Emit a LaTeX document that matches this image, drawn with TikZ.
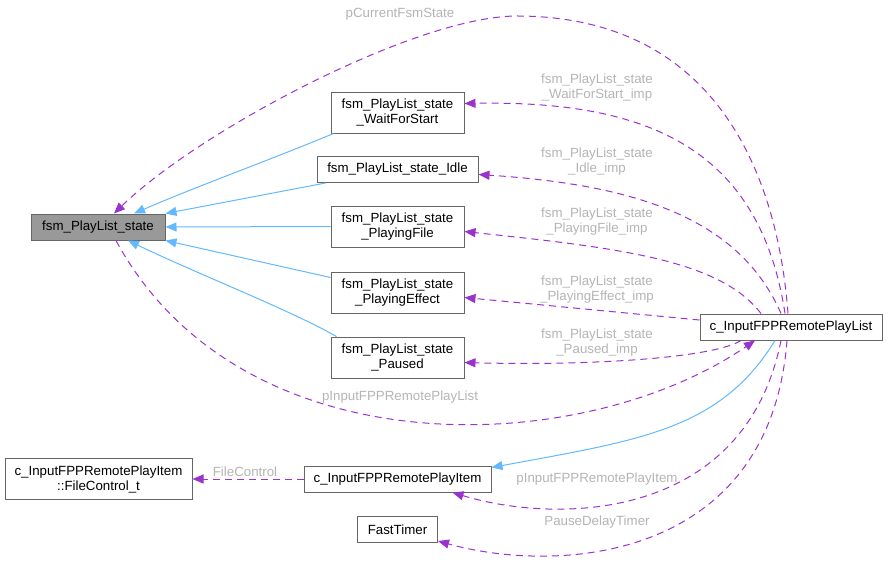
\documentclass[tikz,border=0pt]{standalone}
\usepackage{fontspec}
\setmainfont{Liberation Sans}
\usetikzlibrary{arrows.meta}
\definecolor{boxgray}{HTML}{666666}
\definecolor{basefill}{HTML}{999999}
\definecolor{inhblue}{HTML}{63B8FF}
\definecolor{usepurple}{HTML}{9A32CD}
\definecolor{lblgray}{HTML}{B4B4B4}

\begin{document}
\begin{tikzpicture}[x=1pt,y=-1pt,
  cls/.style={draw=boxgray,fill=white,line width=1pt,inner sep=0pt,align=center,
    minimum height=26,font=\fontsize{13.3}{15}\selectfont},
  cls2/.style={cls,minimum height=41},
  lbl/.style={text=lblgray,inner sep=0pt,align=center,font=\fontsize{13.3}{15}\selectfont},
  inh/.style={draw=inhblue,line width=1pt,-{Triangle[length=11pt,width=9pt]}},
  dep/.style={draw=usepurple,line width=1pt,dash pattern=on 7pt off 5pt,
    -{Triangle[length=11pt,width=9pt]}}]
\useasboundingbox (0,0) rectangle (888,563);

% classes
\node[cls,fill=basefill,minimum width=134] (state) at (98,227) {fsm\_PlayList\_state};
\node[cls2,minimum width=133] (wait) at (397.5,112.5) {fsm\_PlayList\_state\\\_WaitForStart};
\node[cls,minimum width=161] (idle) at (397.5,169.5) {fsm\_PlayList\_state\_Idle};
\node[cls2,minimum width=133] (file) at (397.5,226.5) {fsm\_PlayList\_state\\\_PlayingFile};
\node[cls2,minimum width=133] (effect) at (397.5,292.5) {fsm\_PlayList\_state\\\_PlayingEffect};
\node[cls2,minimum width=133] (paused) at (397.5,357.5) {fsm\_PlayList\_state\\\_Paused};
\node[cls,minimum width=182] (list) at (791,327) {c\_InputFPPRemotePlayList};
\node[cls2,minimum width=187] (ctrl) at (98.5,479) {c\_InputFPPRemotePlayItem\\::FileControl\_t};
\node[cls,minimum width=187] (item) at (397.5,479) {c\_InputFPPRemotePlayItem};
\node[cls,minimum width=80] (timer) at (397.5,529.5) {FastTimer};

% inheritance
\draw[inh] ([xshift=-64]wait.south) .. controls (270,160) and (200,185) .. ([xshift=36]state.north);
\draw[inh] ([xshift=-72]idle.south) -- (state.north east);
\draw[inh] (file.west) -- (state.east);
\draw[inh] ([yshift=15]effect.west) -- (state.south east);
\draw[inh] ([xshift=-61]paused.north) .. controls (290,310) and (200,275) .. ([xshift=30]state.south);
\draw[inh] ([xshift=-16]list.south) .. controls (720,430) and (640,440) .. ([yshift=-2]item.north east);

% usage
\draw[dep] ([xshift=-3]list.north) .. controls (778,180) and (720,18) .. (520,16)
  .. controls (420,14) and (200,130) .. ([xshift=16]state.north);
\draw[dep] ([xshift=-6]list.north) .. controls (760,150) and (650,100) .. ([yshift=9]wait.east);
\draw[dep] ([xshift=-10]list.north) .. controls (740,220) and (640,185) .. ([yshift=-5]idle.east);
\draw[dep] ([xshift=-30]list.north) .. controls (720,260) and (620,248) .. ([yshift=-5]file.east);
\draw[dep] ([yshift=7]list.west) -- ([yshift=-5]effect.east);
\draw[dep] ([xshift=-50]list.south) .. controls (715,357) and (600,366) .. ([yshift=-5]paused.east);
\draw[dep] ([xshift=18]state.south) .. controls (240,470) and (580,460) .. ([xshift=-36]list.south);
\draw[dep] (item.west) -- (ctrl.east);
\draw[dep] ([xshift=-10]list.south) .. controls (745,520) and (560,525) .. ([xshift=55]item.south);
\draw[dep] ([xshift=-4]list.south) .. controls (770,560) and (560,575) .. ([yshift=2]timer.south east);

% labels
\node[lbl] (lcur) at (400,14) {pCurrentFsmState};
\node[lbl] (lwait) at (597,88) {fsm\_PlayList\_state\\\_WaitForStart\_imp};
\node[lbl] (lidle) at (597,162) {fsm\_PlayList\_state\\\_Idle\_imp};
\node[lbl] (lfile) at (597,222) {fsm\_PlayList\_state\\\_PlayingFile\_imp};
\node[lbl] (leffect) at (597,290) {fsm\_PlayList\_state\\\_PlayingEffect\_imp};
\node[lbl] (lpaused) at (597,343) {fsm\_PlayList\_state\\\_Paused\_imp};
\node[lbl] (llist) at (400,397) {pInputFPPRemotePlayList};
\node[lbl] (lctrl) at (245,472) {FileControl};
\node[lbl] (litem) at (597,479) {pInputFPPRemotePlayItem};
\node[lbl] (ltimer) at (597,522) {PauseDelayTimer};
\end{tikzpicture}
\end{document}
